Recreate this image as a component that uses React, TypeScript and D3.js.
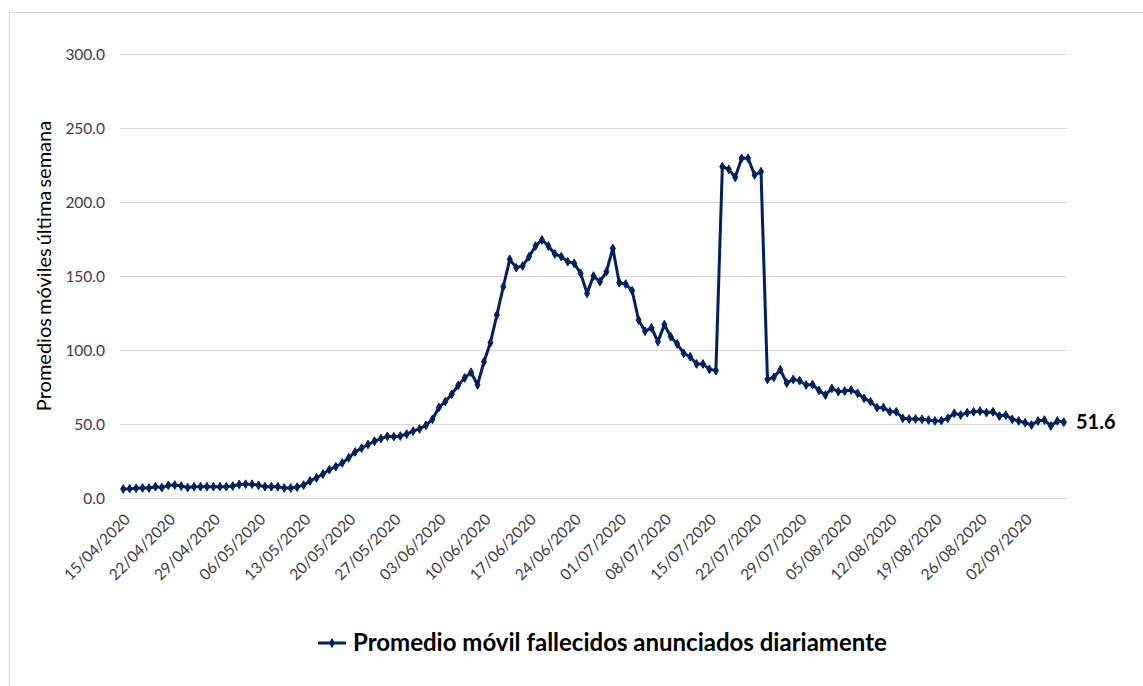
import React from "react";
import * as d3 from "d3";

// Daily 7-day moving average of announced deaths, 15/04/2020 to 08/09/2020
const startDate = "2020-04-15";
const values: number[] = [
  6.4, 6.6, 6.9, 7.1, 7.1, 8.0, 7.4, 8.9, 9.1, 8.4,
  7.4, 8.0, 8.0, 8.0, 8.0, 8.0, 8.0, 8.4, 9.5, 9.7,
  9.7, 8.9, 8.0, 8.0, 8.0, 7.1, 7.1, 7.7, 9.1, 11.9,
  13.9, 16.5, 19.5, 21.5, 24.0, 27.5, 31.5, 34.0, 36.5, 38.7,
  40.5, 42.0, 41.8, 42.2, 43.5, 45.5, 47.0, 49.5, 53.5, 61.5,
  65.5, 70.5, 76.5, 81.5, 85.3, 76.7, 92.4, 105.3, 124.0, 143.1,
  161.6, 156.0, 157.1, 163.4, 170.6, 174.7, 170.6, 165.2, 163.4, 160.0,
  158.9, 152.2, 138.6, 150.3, 146.5, 153.2, 169.0, 145.8, 144.9, 140.4,
  120.6, 113.0, 115.3, 106.0, 117.5, 109.3, 104.4, 98.1, 95.8, 90.9,
  90.9, 87.3, 86.4, 224.2, 222.4, 217.0, 229.9, 229.9, 218.6, 220.8,
  80.5, 81.9, 87.0, 78.0, 80.5, 79.6, 76.7, 77.0, 73.0, 69.9,
  74.4, 72.2, 72.6, 73.3, 71.1, 67.7, 65.4, 61.4, 61.4, 58.6,
  58.6, 54.2, 53.7, 53.7, 53.5, 53.0, 52.4, 52.6, 54.2, 57.6,
  56.4, 58.0, 58.6, 59.1, 58.0, 58.6, 55.7, 56.4, 53.5, 52.4,
  51.2, 49.7, 52.4, 53.0, 49.0, 52.4, 51.6,
];
const yTicks: number[] = [0, 50, 100, 150, 200, 250, 300];
const labelEvery = 7;
const yTitle = "Promedios móviles última semana";
const seriesName = "Promedio móvil fallecidos anunciados diariamente";

const W = 1143;
const H = 686;
const plot = { left: 120, right: 1067, top: 54.5, bottom: 498.5 };
const navy = "#002060";
const font = "Lato, 'Open Sans', sans-serif";

const parse = d3.timeParse("%Y-%m-%d");
const fmt = d3.timeFormat("%d/%m/%Y");
const start = parse(startDate) as Date;
const dates = values.map((_, i) => d3.timeDay.offset(start, i));
const labels = dates.map((d) => fmt(d));

export default function App() {
  const x = d3
    .scaleBand<string>()
    .domain(labels)
    .range([plot.left, plot.right]);
  const cx = (l: string) => (x(l) as number) + x.bandwidth() / 2;
  const y = d3.scaleLinear().domain([0, 300]).range([plot.bottom, plot.top]);

  const line = d3
    .line<number>()
    .x((_, i) => cx(labels[i]))
    .y((v) => y(v));

  const diamond = d3.symbol().type(d3.symbolDiamond).size(22)() as string;
  const last = values[values.length - 1];

  return (
    <svg
      width={W}
      height={H}
      style={{ position: "absolute", left: 0, top: 0, background: "#fff" }}
    >
      <rect x={9.5} y={12.5} width={W} height={H} fill="#fff" stroke="#d9d9d9" />

      {yTicks.map((t) => (
        <g key={t}>
          <line
            x1={plot.left}
            x2={plot.right}
            y1={y(t)}
            y2={y(t)}
            stroke="#d9d9d9"
            strokeWidth={1}
          />
          <text
            x={105}
            y={y(t)}
            dy="0.35em"
            textAnchor="end"
            fontFamily={font}
            fontSize={15.5}
            fill="#404040"
          >
            {t.toFixed(1)}
          </text>
        </g>
      ))}

      <text
        transform={`translate(51,266) rotate(-90)`}
        textAnchor="middle"
        fontFamily={font}
        fontSize={20}
        wordSpacing={-2}
        fill="#000"
      >
        {yTitle}
      </text>

      {labels.map((l, i) =>
        i % labelEvery === 0 ? (
          <text
            key={l}
            transform={`translate(${cx(l) + 8},${plot.bottom + 22}) rotate(-45)`}
            textAnchor="end"
            fontFamily={font}
            fontSize={15.5}
            fill="#404040"
          >
            {l}
          </text>
        ) : null
      )}

      <path d={line(values) as string} fill="none" stroke={navy} strokeWidth={3} strokeLinejoin="round" />
      {values.map((v, i) => (
        <path key={i} d={diamond} transform={`translate(${cx(labels[i])},${y(v)})`} fill={navy} stroke={navy} strokeWidth={1} />
      ))}

      <text
        x={1076}
        y={y(last)}
        dy="0.35em"
        fontFamily={font}
        fontSize={20}
        fontWeight="bold"
        fill="#000"
      >
        {last.toFixed(1)}
      </text>

      <g transform="translate(318,643)">
        <line x1={0} x2={28} y1={0} y2={0} stroke={navy} strokeWidth={3} />
        <path d={diamond} transform="translate(14,0)" fill={navy} stroke={navy} />
        <text x={35} y={0} dy="0.35em" fontFamily={font} fontSize={24} fontWeight="bold" fill="#000">
          {seriesName}
        </text>
      </g>
    </svg>
  );
}
